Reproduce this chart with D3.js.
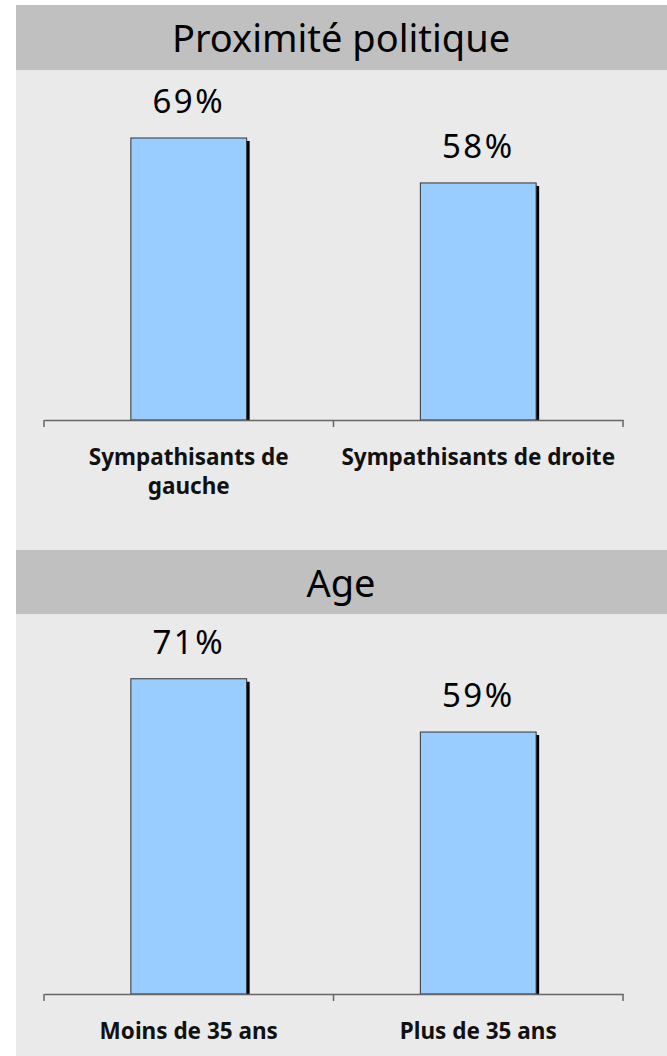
<!DOCTYPE html>
<html>
<head>
<meta charset="utf-8">
<script src="https://cdn.jsdelivr.net/npm/d3@7"></script>
<style>
body { margin: 0; background: #fff; }
svg text { font-family: "Noto Sans", "DejaVu Sans", sans-serif; }
</style>
</head>
<body>
<div id="chart"></div>
<script>
// Panel titles
var titles = ['Proximité politique', 'Age'];

// Categories for each panel (line breaks for wrapped labels)
var politicsCats = [['Sympathisants de', 'gauche'], ['Sympathisants de droite']];
var ageCats = [['Moins de 35 ans'], ['Plus de 35 ans']];

// Percentages
var politicsValues = [69, 58];
var ageValues = [71, 59];

var W = 667, H = 1056;

var svg = d3.select('#chart').append('svg')
    .attr('width', W)
    .attr('height', H);

// Light panel background
svg.append('rect')
    .attr('x', 16).attr('y', 5)
    .attr('width', W - 16).attr('height', H - 5)
    .attr('fill', '#eaeaea');

function drawPanel(cfg) {
    var g = svg.append('g');

    // header band
    g.append('rect')
        .attr('x', 16).attr('y', cfg.headerTop)
        .attr('width', W - 16).attr('height', cfg.headerH)
        .attr('fill', '#c0c0c0');
    g.append('text')
        .attr('x', 341).attr('y', cfg.headerTop + cfg.headerH / 2 + 14.5)
        .attr('text-anchor', 'middle')
        .attr('font-size', 38)
        .attr('fill', '#000')
        .text(cfg.title);

    var x = d3.scaleBand()
        .domain(d3.range(cfg.values.length))
        .range([44, 623])
        .padding(0);

    var y = d3.scaleLinear()
        .domain([0, 100])
        .range([cfg.axisY, cfg.axisY - cfg.pxPer100]);

    var barW = x.bandwidth() * 0.4;

    // shadows
    g.selectAll('.shadow')
        .data(cfg.values)
        .enter().append('rect')
        .attr('x', (d, i) => x(i) + (x.bandwidth() - barW) / 2 + 3)
        .attr('y', d => y(d) + 3)
        .attr('width', barW)
        .attr('height', d => cfg.axisY - y(d) - 3)
        .attr('fill', '#000');

    // bars
    g.selectAll('.bar')
        .data(cfg.values)
        .enter().append('rect')
        .attr('x', (d, i) => x(i) + (x.bandwidth() - barW) / 2)
        .attr('y', d => y(d))
        .attr('width', barW)
        .attr('height', d => cfg.axisY - y(d))
        .attr('fill', '#99ccff')
        .attr('stroke', '#333')
        .attr('stroke-width', 1);

    // value labels
    g.selectAll('.val')
        .data(cfg.values)
        .enter().append('text')
        .attr('x', (d, i) => x(i) + x.bandwidth() / 2)
        .attr('y', d => y(d) - 25)
        .attr('text-anchor', 'middle')
        .attr('font-size', 33)
        .attr('letter-spacing', 2.5)
        .attr('fill', '#000')
        .text(d => d + '%');

    // axis line + ticks
    var axis = g.append('g')
        .attr('transform', 'translate(0,' + cfg.axisY + ')')
        .call(d3.axisBottom(x).tickSize(0).tickFormat(''));
    axis.select('.domain').attr('stroke', '#666').attr('stroke-width', 1.5);
    axis.selectAll('.boundary')
        .data([44, 44 + x.bandwidth(), 623])
        .enter().append('line')
        .attr('x1', d => d).attr('x2', d => d)
        .attr('y1', 0).attr('y2', 7)
        .attr('stroke', '#666').attr('stroke-width', 1.5);

    // category labels
    g.selectAll('.cat')
        .data(cfg.cats)
        .enter().append('text')
        .attr('x', (d, i) => x(i) + x.bandwidth() / 2)
        .attr('y', cfg.axisY + 45)
        .attr('text-anchor', 'middle')
        .attr('font-size', 22.5)
        .attr('font-weight', 'bold')
        .attr('fill', '#111')
        .selectAll('tspan')
        .data(d => d)
        .enter().append('tspan')
        .attr('x', function() { return this.parentNode.getAttribute('x'); })
        .attr('dy', (d, i) => i === 0 ? 0 : 29)
        .text(d => d);
}

drawPanel({
    title: titles[0], headerTop: 5, headerH: 65,
    values: politicsValues, cats: politicsCats,
    axisY: 420, pxPer100: 408.7
});

drawPanel({
    title: titles[1], headerTop: 550, headerH: 64,
    values: ageValues, cats: ageCats,
    axisY: 994, pxPer100: 444
});
</script>
</body>
</html>
